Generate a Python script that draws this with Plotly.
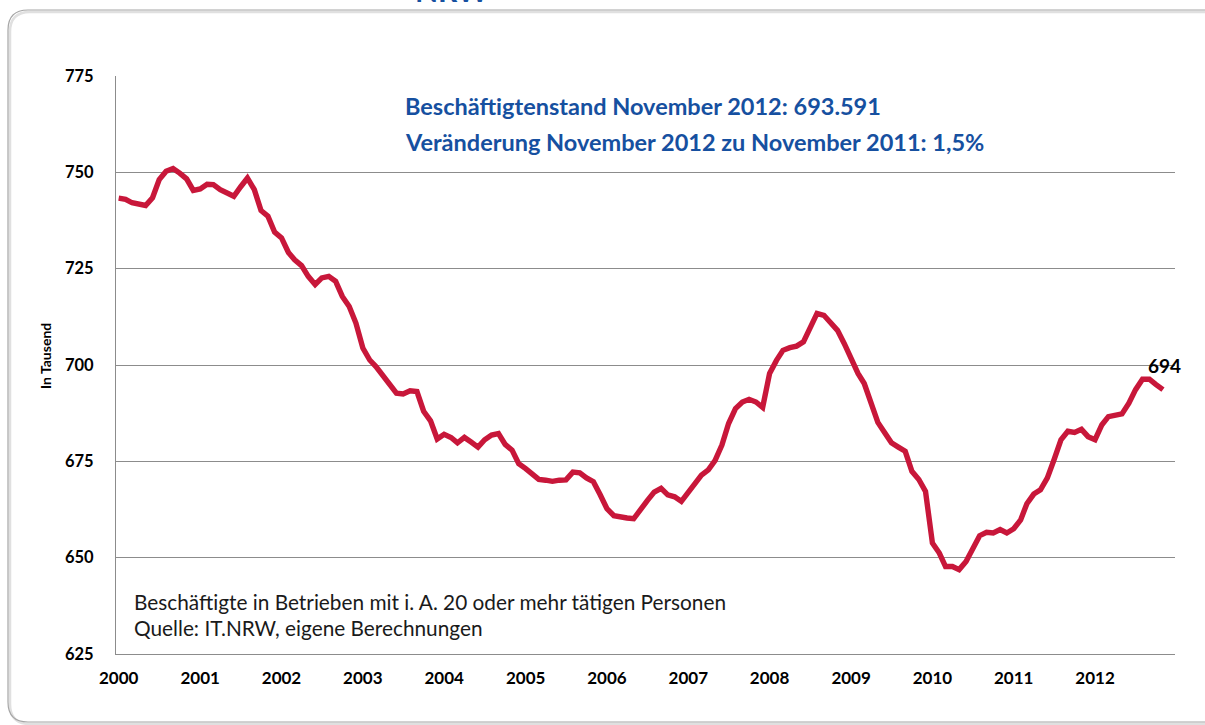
import pandas as pd
import plotly.graph_objects as go

# ---- data (monthly, Jan 2000 .. Nov 2012, in thousands) ----
start_month = "2000-01-01"
n_months = 155
employment = [
    743.3, 743.0, 742.1, 741.7, 741.4, 743.4, 748.1, 750.3, 751.0, 749.8, 748.3, 745.3,
    745.7, 746.9, 746.8, 745.5, 744.6, 743.8, 746.2, 748.5, 745.5, 740.1, 738.6, 734.5,
    733.0, 729.2, 727.3, 725.8, 723.0, 720.9, 722.6, 723.0, 721.7, 717.8, 715.2, 710.9,
    704.4, 701.3, 699.6, 697.4, 695.4, 692.7, 692.5, 693.3, 693.1, 688.0, 685.5, 680.8,
    682.0, 681.2, 679.8, 681.2, 680.0, 678.7, 680.6, 681.8, 682.2, 679.4, 677.9, 674.4,
    673.1, 671.4, 670.3, 670.1, 669.8, 670.1, 670.2, 672.2, 672.0, 670.7, 669.7, 666.4,
    662.7, 660.9, 660.5, 660.3, 660.1, 662.7, 664.8, 667.0, 668.0, 666.3, 665.8, 664.6,
    667.0, 669.2, 671.4, 672.8, 675.2, 679.2, 684.8, 688.7, 690.4, 691.1, 690.4, 689.0,
    697.8, 701.2, 703.8, 704.5, 704.9, 706.0, 709.9, 713.4, 712.9, 711.2, 709.0, 705.6,
    701.8, 697.8, 695.2, 690.0, 685.1, 682.4, 679.8, 678.7, 677.6, 672.4, 670.3, 667.2,
    653.8, 651.2, 647.7, 647.7, 646.9, 649.0, 652.1, 655.7, 656.6, 656.4, 657.3, 656.4,
    657.5, 659.8, 664.0, 666.5, 667.6, 670.7, 675.4, 680.6, 682.8, 682.5, 683.3, 681.4,
    680.6, 684.5, 686.6, 687.1, 687.3, 690.1, 693.6, 696.3, 696.3, 694.9, 693.6,
]
months = pd.date_range(start_month, periods=n_months, freq="MS")
last_label = "694"
info_lines = [
    "Beschäftigtenstand November 2012: 693.591",
    "Veränderung November 2012 zu November 2011: 1,5%",
]
note_lines = [
    "Beschäftigte in Betrieben mit i. A. 20 oder mehr tätigen Personen",
    "Quelle: IT.NRW, eigene Berechnungen",
]
y_title = "In Tausend"
top_title = "NRW"

# ---- layout geometry (page pixels) ----
W, H = 1205, 725
L, R, T, B = 116, 1175, 76, 654


def px(x):
    return (x - L) / (R - L)


def py(y):
    return (B - y) / (B - T)


FONT = "Lato"
BLUE = "#1650A0"
fig = go.Figure()
fig.add_trace(go.Scatter(
    x=months, y=employment, mode="lines",
    line=dict(color="#C8173A", width=5.4),
    hoverinfo="x+y", showlegend=False,
))


def frame_path(off, r=20):
    x0, y0, y1, xe = 8 + off, 10 + off, 722 + off, 1230
    pts = [
        ("M", xe, y0), ("L", x0 + r, y0), ("Q", x0, y0, x0, y0 + r),
        ("L", x0, y1 - r), ("Q", x0, y1, x0 + r, y1), ("L", xe, y1),
    ]
    s = ""
    for p in pts:
        if p[0] == "Q":
            s += f"Q {px(p[1]):.5f},{py(p[2]):.5f} {px(p[3]):.5f},{py(p[4]):.5f} "
        else:
            s += f"{p[0]} {px(p[1]):.5f},{py(p[2]):.5f} "
    return s


shapes = [
    dict(type="path", xref="paper", yref="paper", path=frame_path(2),
         line=dict(color="#E0E0E0", width=2.5)),
    dict(type="path", xref="paper", yref="paper", path=frame_path(0),
         line=dict(color="#A6A6A6", width=1.2)),
]

annotations = [
    dict(x=px(452), y=py(-10), xref="paper", yref="paper", xanchor="center", yanchor="middle",
         text=top_title, showarrow=False,
         font=dict(family=FONT, size=30, color=BLUE, weight="bold")),
    dict(x=px(403), y=py(106), xref="paper", yref="paper", xanchor="left", yanchor="middle",
         text=info_lines[0], showarrow=False,
         font=dict(family=FONT, size=23.5, color=BLUE, weight="bold")),
    dict(x=px(403), y=py(142), xref="paper", yref="paper", xanchor="left", yanchor="middle",
         text=info_lines[1], showarrow=False,
         font=dict(family=FONT, size=23.5, color=BLUE, weight="bold")),
    dict(x=px(132), y=py(601), xref="paper", yref="paper", xanchor="left", yanchor="middle",
         text=note_lines[0], showarrow=False,
         font=dict(family=FONT, size=20.8, color="#1A1A1A")),
    dict(x=px(132), y=py(627), xref="paper", yref="paper", xanchor="left", yanchor="middle",
         text=note_lines[1], showarrow=False,
         font=dict(family=FONT, size=20.8, color="#1A1A1A")),
    dict(x=months[-1], y=employment[-1], xref="x", yref="y", xanchor="center", yanchor="middle",
         xshift=2, yshift=24, text=last_label, showarrow=False,
         font=dict(family=FONT, size=19, color="#000000", weight="bold")),
    dict(x=px(45), y=py(356), xref="paper", yref="paper", xanchor="center", yanchor="middle",
         text=y_title, textangle=-90, showarrow=False,
         font=dict(family=FONT, size=14, color="#000000", weight="bold")),
]

fig.update_layout(
    width=W, height=H,
    margin=dict(l=L, r=W - R, t=T, b=H - B, pad=0),
    paper_bgcolor="white", plot_bgcolor="white",
    font=dict(family=FONT, color="#000000"),
    shapes=shapes, annotations=annotations,
    xaxis=dict(
        type="date",
        range=["1999-12-20", "2012-12-25"],
        tick0="2000-01-01", dtick="M12", tickformat="%Y",
        showgrid=False, showline=True, linecolor="#8C8C8C", linewidth=1,
        ticks="", ticklabelstandoff=9,
        tickfont=dict(family=FONT, size=17, color="#000000", weight="bold"),
        zeroline=False, fixedrange=True,
    ),
    yaxis=dict(
        range=[625, 775], dtick=25, tick0=625,
        showgrid=True, gridcolor="#8C8C8C", gridwidth=1,
        showline=True, linecolor="#8C8C8C", linewidth=1,
        ticks="", ticklabelstandoff=18,
        tickfont=dict(family=FONT, size=16.5, color="#000000", weight="bold"),
        zeroline=False, fixedrange=True,
    ),
)

fig.write_html(
    "out.html",
    config={"displayModeBar": False},
    post_script="document.body.style.margin='0';document.body.style.overflow='hidden';",
)
